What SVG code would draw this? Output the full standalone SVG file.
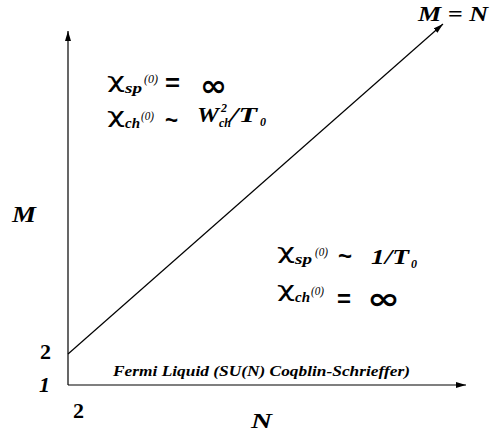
<svg xmlns="http://www.w3.org/2000/svg" width="498" height="432" viewBox="0 0 498 432">
<defs>
<style>
.ax{stroke:#000;stroke-width:1.2;fill:none}
.bi{font-family:"Liberation Serif",serif;font-weight:bold;font-style:italic;fill:#000}
.b{font-family:"Liberation Serif",serif;font-weight:bold;fill:#000}
.chi{font-family:"DejaVu Sans",sans-serif;font-size:22px;fill:#000}
.sub{font-family:"Liberation Serif",serif;font-style:italic;font-weight:bold;font-size:15px;fill:#000}
.sup{font-family:"Liberation Serif",serif;font-style:italic;font-size:12px;fill:#000}
.op{font-family:"Liberation Sans",sans-serif;font-weight:bold;font-size:24px;fill:#000}
.inf{font-family:"DejaVu Sans",sans-serif;font-weight:bold;font-size:30px;fill:#000}
</style>
<marker id="ah" viewBox="0 0 10 6" refX="10" refY="3" markerWidth="10" markerHeight="6" markerUnits="userSpaceOnUse" orient="auto">
<path d="M0,0 L10,3 L0,6 z" fill="#000"/>
</marker>
</defs>
<rect width="498" height="432" fill="#fff"/>
<g id="connectors">
<line class="ax" x1="68" y1="385" x2="68" y2="31" marker-end="url(#ah)"/>
<line class="ax" x1="68" y1="385" x2="466" y2="385" marker-end="url(#ah)"/>
<line class="ax" x1="68" y1="354" x2="443" y2="24" marker-end="url(#ah)"/>
</g>
<g id="axis-labels">
<text class="bi" x="12" y="222" font-size="24" textLength="24" lengthAdjust="spacingAndGlyphs">M</text>
<text class="b" x="40" y="359" font-size="22">2</text>
<text class="bi" x="39" y="392" font-size="22">1</text>
<text class="b" x="73" y="418" font-size="22">2</text>
<text class="bi" x="251" y="428" font-size="22" textLength="21" lengthAdjust="spacingAndGlyphs">N</text>
<text class="bi" x="418" y="21" font-size="22" textLength="70" lengthAdjust="spacingAndGlyphs">M = N</text>
</g>
<g id="region-upper">
<text class="chi" x="107" y="88" textLength="18" lengthAdjust="spacingAndGlyphs">χ</text>
<text class="sub" x="125" y="93" textLength="17" lengthAdjust="spacingAndGlyphs">sp</text>
<text class="sup" x="144" y="83" textLength="14" lengthAdjust="spacingAndGlyphs">(0)</text>
<text class="op" x="165" y="91" textLength="15" lengthAdjust="spacingAndGlyphs">=</text>
<text class="inf" x="200" y="96" textLength="27" lengthAdjust="spacingAndGlyphs">∞</text>
<text class="chi" x="107" y="123" textLength="18" lengthAdjust="spacingAndGlyphs">χ</text>
<text class="sub" x="125" y="128" textLength="15" lengthAdjust="spacingAndGlyphs">ch</text>
<text class="sup" x="141" y="120" textLength="13" lengthAdjust="spacingAndGlyphs">(0)</text>
<text class="op" x="165" y="128" textLength="13" lengthAdjust="spacingAndGlyphs">~</text>
<text class="bi" font-size="20"><tspan x="197" y="122" textLength="22" lengthAdjust="spacingAndGlyphs">W</tspan><tspan class="sup" font-size="10" x="219" y="127">ch</tspan><tspan class="sup" font-size="10" font-style="normal" x="221" y="112">2</tspan><tspan x="230" y="122" textLength="27" lengthAdjust="spacingAndGlyphs">/T</tspan><tspan class="sup" font-size="11" font-weight="bold" x="260" y="126">0</tspan></text>
</g>
<g id="region-lower">
<text class="chi" x="277" y="259" textLength="18" lengthAdjust="spacingAndGlyphs">χ</text>
<text class="sub" x="295" y="264" textLength="17" lengthAdjust="spacingAndGlyphs">sp</text>
<text class="sup" x="315" y="256" textLength="13" lengthAdjust="spacingAndGlyphs">(0)</text>
<text class="op" x="338" y="264" textLength="14" lengthAdjust="spacingAndGlyphs">~</text>
<text class="bi" font-size="20"><tspan x="371" y="264" textLength="38" lengthAdjust="spacingAndGlyphs">1/T</tspan><tspan class="sup" font-size="11" font-weight="bold" x="411" y="268">0</tspan></text>
<text class="chi" x="277" y="297" textLength="18" lengthAdjust="spacingAndGlyphs">χ</text>
<text class="sub" x="295" y="302" textLength="15" lengthAdjust="spacingAndGlyphs">ch</text>
<text class="sup" x="311" y="295" textLength="13" lengthAdjust="spacingAndGlyphs">(0)</text>
<text class="op" x="337" y="307" textLength="14" lengthAdjust="spacingAndGlyphs">=</text>
<text class="inf" x="367" y="309" textLength="33" lengthAdjust="spacingAndGlyphs">∞</text>
</g>
<g id="region-bottom">
<text class="bi" x="113" y="376" font-size="15" textLength="297" lengthAdjust="spacingAndGlyphs">Fermi Liquid (SU(N) Coqblin-Schrieffer)</text>
</g>
</svg>
